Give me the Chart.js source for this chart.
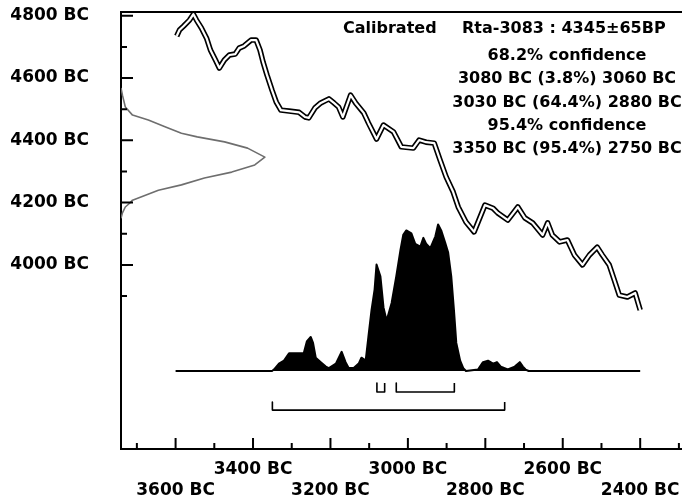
<!DOCTYPE html>
<html>
<head>
<meta charset="utf-8">
<script src="https://cdn.jsdelivr.net/npm/chart.js@4.4.0/dist/chart.umd.min.js"></script>
<style>
  html, body { margin: 0; padding: 0; background: #fff; }
  #wrap { width: 682px; height: 501px; }
</style>
</head>
<body>
<div id="wrap"><canvas id="myChart" width="682" height="501"></canvas></div>
<script>
// calibration curve: calendar year (BC) against radiocarbon age
const curveYears = [3597, 3590, 3579, 3564, 3554, 3546, 3533, 3520, 3510, 3497,
  3487, 3474, 3461, 3446, 3436, 3423, 3405, 3392, 3382, 3374,
  3364, 3351, 3340, 3328, 3307, 3281, 3266, 3256, 3240, 3225,
  3204, 3191, 3179, 3168, 3148, 3135, 3114, 3102, 3081, 3063,
  3037, 3017, 2986, 2971, 2953, 2932, 2917, 2901, 2883, 2870,
  2850, 2829, 2801, 2780, 2768, 2742, 2716, 2698, 2678, 2652,
  2639, 2627, 2608, 2588, 2570, 2549, 2531, 2511, 2498, 2480,
  2467, 2454, 2433, 2413, 2400];
const curveAges = [4735, 4754, 4767, 4786, 4805, 4786, 4760, 4728, 4690, 4658,
  4632, 4658, 4674, 4677, 4696, 4703, 4722, 4722, 4690, 4651,
  4610, 4561, 4523, 4497, 4494, 4490, 4475, 4472, 4504, 4520,
  4533, 4520, 4507, 4475, 4545, 4520, 4488, 4456, 4404, 4449,
  4427, 4379, 4375, 4401, 4394, 4391, 4337, 4282, 4234, 4186,
  4138, 4106, 4192, 4182, 4167, 4144, 4186, 4151, 4135, 4096,
  4135, 4096, 4074, 4080, 4032, 4000, 4032, 4057, 4032, 4000,
  3952, 3903, 3897, 3910, 3855];

// measured date (4345 +- 65), drawn along the vertical axis
const dateAges = [4568, 4545, 4507, 4481, 4465, 4443, 4423, 4411, 4395, 4375, 4346,
  4321, 4298, 4279, 4257, 4240, 4224, 4208, 4198, 4186, 4167, 4150];
const dateProb = [0, 0.01, 0.03, 0.08, 0.19, 0.31, 0.42, 0.53, 0.72, 0.88, 1.0,
  0.93, 0.77, 0.58, 0.42, 0.26, 0.17, 0.08, 0.06, 0.03, 0.01, 0];

// calibrated probability (black area)
const calYears = [3600, 3351, 3346, 3333, 3320, 3307, 3289, 3269, 3261, 3251,
  3245, 3238, 3225, 3212, 3204, 3186, 3171, 3161, 3153, 3140,
  3127, 3120, 3109, 3102, 3094, 3086, 3081, 3071, 3063, 3055,
  3042, 3030, 3019, 3012, 3004, 2991, 2981, 2968, 2960, 2953,
  2942, 2929, 2922, 2914, 2904, 2896, 2888, 2881, 2875, 2865,
  2857, 2850, 2819, 2806, 2793, 2780, 2770, 2760, 2742, 2724,
  2711, 2703, 2696, 2688, 2400];
const calProb = [0, 0, 0.01, 0.05, 0.07, 0.12, 0.12, 0.12, 0.20, 0.23,
  0.19, 0.09, 0.06, 0.03, 0.02, 0.05, 0.13, 0.06, 0.02, 0.02,
  0.05, 0.09, 0.07, 0.23, 0.41, 0.55, 0.72, 0.64, 0.43, 0.34,
  0.46, 0.64, 0.82, 0.92, 0.95, 0.93, 0.86, 0.84, 0.90, 0.86,
  0.83, 0.91, 0.99, 0.95, 0.87, 0.80, 0.64, 0.41, 0.19, 0.07,
  0.02, 0, 0.01, 0.06, 0.07, 0.05, 0.06, 0.03, 0.01, 0.03,
  0.06, 0.03, 0.01, 0, 0];

// ranges
const ranges68 = [[3080, 3060], [3030, 2880]];
const ranges95 = [[3350, 2750]];

// axes
const xMajor = [3600, 3400, 3200, 3000, 2800, 2600, 2400];
const xMinor = [3700, 3500, 3300, 3100, 2900, 2700, 2500, 2300];
const yMajor = [4000, 4200, 4400, 4600, 4800];
const yMinor = [3900, 4100, 4300, 4500, 4700];

const headLeft = 'Calibrated';
const headRight = 'Rta-3083 : 4345±65BP';
const infoLines = ['68.2% confidence', '3080 BC (3.8%) 3060 BC', '3030 BC (64.4%) 2880 BC',
  '95.4% confidence', '3350 BC (95.4%) 2750 BC'];

const FONT = '"DejaVu Sans", sans-serif';

function pts(xs, ys) {
  return xs.map((v, i) => ({x: v, y: ys[i]}));
}

function bracket(r, top, bot) {
  return [{x: r[0], y: top}, {x: r[0], y: bot}, {x: r[1], y: bot}, {x: r[1], y: top}];
}

// no extra room for the end labels
function noPad(s) {
  s.paddingTop = 0; s.paddingBottom = 0; s.paddingLeft = 0; s.paddingRight = 0;
}

const datasets = [];

// curve drawn twice: thick black, thin white on top -> double line
datasets.push({data: pts(curveYears, curveAges), borderColor: '#000', borderWidth: 5.5, order: 5});
datasets.push({data: pts(curveYears, curveAges), borderColor: '#fff', borderWidth: 2.2, order: 1});

datasets.push({data: pts(dateProb, dateAges), xAxisID: 'xd', borderColor: '#6e6e6e', borderWidth: 1.6, order: 3});

datasets.push({data: pts(calYears, calProb), yAxisID: 'y2', borderColor: '#000', backgroundColor: '#000',
  borderWidth: 2, fill: 'origin', order: 4});

ranges68.forEach(r => datasets.push({data: bracket(r, -0.081, -0.142), yAxisID: 'y2', borderColor: '#000', borderWidth: 1.6, order: 2}));
ranges95.forEach(r => datasets.push({data: bracket(r, -0.209, -0.264), yAxisID: 'y2', borderColor: '#000', borderWidth: 1.6, order: 2}));

const frame = {
  id: 'frame',
  afterDraw(chart) {
    const {ctx, chartArea: a, scales: {x, y}} = chart;
    ctx.save();
    ctx.strokeStyle = '#000';
    ctx.lineWidth = 2;
    ctx.beginPath();
    ctx.moveTo(a.left, a.top);
    ctx.lineTo(a.right, a.top);
    xMajor.forEach(v => { const p = x.getPixelForValue(v); ctx.moveTo(p, a.bottom); ctx.lineTo(p, a.bottom - 11); });
    xMinor.forEach(v => { const p = x.getPixelForValue(v); ctx.moveTo(p, a.bottom); ctx.lineTo(p, a.bottom - 6); });
    yMajor.forEach(v => { const p = y.getPixelForValue(v); ctx.moveTo(a.left, p); ctx.lineTo(a.left + 12, p); });
    yMinor.forEach(v => { const p = y.getPixelForValue(v); ctx.moveTo(a.left, p); ctx.lineTo(a.left + 6, p); });
    ctx.stroke();

    // text block
    ctx.fillStyle = '#000';
    ctx.font = 'bold 16px ' + FONT;
    ctx.textBaseline = 'alphabetic';
    ctx.textAlign = 'left';
    ctx.fillText(headLeft, 343, 33);
    ctx.fillText(headRight, 462, 33);
    ctx.textAlign = 'center';
    infoLines.forEach((t, i) => ctx.fillText(t, 567, 60 + i * 23.3));
    ctx.restore();
  }
};

const ctx = document.getElementById('myChart');
const myChart = new Chart(ctx, {
  type: 'line',
  data: {datasets: datasets},
  options: {
    responsive: false,
    animation: false,
    layout: {padding: {top: 12, right: 0, left: 0, bottom: 0}},
    elements: {
      point: {radius: 0},
      line: {tension: 0, fill: false, borderJoinStyle: 'round'}
    },
    plugins: {legend: {display: false}, tooltip: {enabled: false}},
    scales: {
      x: {
        type: 'linear', reverse: true, min: 2292, max: 3741,
        afterBuildTicks: s => { s.ticks = xMajor.map(v => ({value: v})); },
        afterFit: s => { s.height = 52; noPad(s); },
        grid: {drawOnChartArea: false, drawTicks: false},
        border: {color: '#000', width: 2},
        ticks: {
          autoSkip: false, maxRotation: 0, padding: 10, color: '#000',
          font: {family: FONT, size: 17, weight: 'bold', lineHeight: 1.25},
          callback: v => xMajor.indexOf(v) % 2 === 0 ? ['', v + ' BC'] : [v + ' BC', '']
        }
      },
      y: {
        type: 'linear', min: 3409, max: 4812,
        afterBuildTicks: s => { s.ticks = yMajor.map(v => ({value: v})); },
        afterFit: s => { s.width = 121; noPad(s); },
        grid: {drawOnChartArea: false, drawTicks: false},
        border: {color: '#000', width: 2},
        ticks: {
          padding: 32, color: '#000',
          font: {family: FONT, size: 17, weight: 'bold'},
          callback: v => v + ' BC'
        }
      },
      xd: {type: 'linear', display: false, min: 0, max: 3.9},
      y2: {type: 'linear', display: false, min: -0.527, max: 2.426}
    }
  },
  plugins: [frame]
});
</script>
</body>
</html>
